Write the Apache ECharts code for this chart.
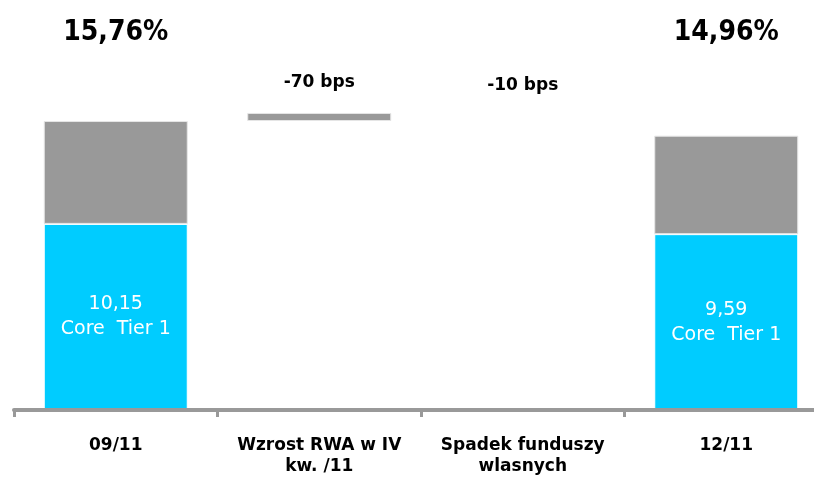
<!DOCTYPE html>
<html>
<head>
<meta charset="utf-8">
<script src="https://cdn.jsdelivr.net/npm/echarts@6/dist/echarts.min.js"></script>
<style>html,body{margin:0;padding:0;background:#fff}#c{width:814px;height:480px}</style>
</head>
<body>
<div id="c"></div>
<script>
// ---- data ----
const categories = ['09/11', 'Wzrost RWA w IV\nkw. /11', 'Spadek funduszy\nwlasnych', '12/11'];
const baseValues = [0, 15.76, 15.87, 0];          // invisible offset of floating bars
const coreTier1 = [10.15, null, null, 9.59];      // cyan segment
const restValues = [5.61, 0.44, null, 5.37];      // grey segment
const totalLabels = ['15,76%', '', '', '14,96%'];
const changeLabels = ['', '-70 bps', '-10 bps', ''];

// annotation heights in axis units
const TOTAL_Y = 20.6;
const CHANGE_Y = [0, 17.88, 17.67, 0];

const fmt = v => v.toFixed(2).replace('.', ',');

const chart = echarts.init(document.getElementById('c'));
chart.setOption({
  animation: false,
  backgroundColor: '#fff',
  grid: { left: 14, top: 0, bottom: 70, width: 814, containLabel: false, outerBoundsMode: 'none' },
  xAxis: {
    type: 'category',
    data: categories,
    z: 5,
    axisLine: { lineStyle: { color: '#999', width: 4 } },
    axisTick: { show: true, length: 7, lineStyle: { color: '#999', width: 3 } },
    axisLabel: {
      interval: 0, margin: 25, color: '#000',
      fontFamily: 'DejaVu Sans', fontWeight: 'bold', fontSize: 17, lineHeight: 21
    }
  },
  yAxis: { type: 'value', min: 0, max: 22.36, show: false, splitLine: { show: false } },
  series: [
    {
      type: 'bar', stack: 's', data: baseValues, barWidth: 144,
      itemStyle: { color: 'transparent' }, silent: true
    },
    {
      type: 'bar', stack: 's', data: coreTier1, barWidth: 144,
      itemStyle: { color: '#00CCFF', borderColor: '#fff', borderWidth: 1 },
      label: {
        show: true, position: 'inside', color: '#fff',
        fontFamily: 'DejaVu Sans', fontSize: 19, lineHeight: 25,
        formatter: p => p.value ? fmt(p.value) + '\nCore  Tier 1' : ''
      }
    },
    {
      type: 'bar', stack: 's', data: restValues, barWidth: 144,
      itemStyle: { color: '#999999', borderColor: '#e6e6e6', borderWidth: 1 }
    },
    {
      type: 'scatter', symbolSize: 0, itemStyle: { opacity: 1 },
      data: totalLabels.map((t, i) => [i, TOTAL_Y]).filter((d, i) => totalLabels[i]),
      label: {
        show: true, position: 'inside', color: '#000', textBorderWidth: 0,
        fontFamily: 'DejaVu Sans Condensed', fontWeight: 'bold', fontSize: 28,
        formatter: p => totalLabels[p.value[0]]
      }
    },
    {
      type: 'scatter', symbolSize: 0, itemStyle: { opacity: 1 },
      data: changeLabels.map((t, i) => [i, CHANGE_Y[i]]).filter((d, i) => changeLabels[i]),
      label: {
        show: true, position: 'inside', color: '#000', textBorderWidth: 0,
        fontFamily: 'DejaVu Sans', fontWeight: 'bold', fontSize: 17,
        formatter: p => changeLabels[p.value[0]]
      }
    }
  ]
});
</script>
</body>
</html>
